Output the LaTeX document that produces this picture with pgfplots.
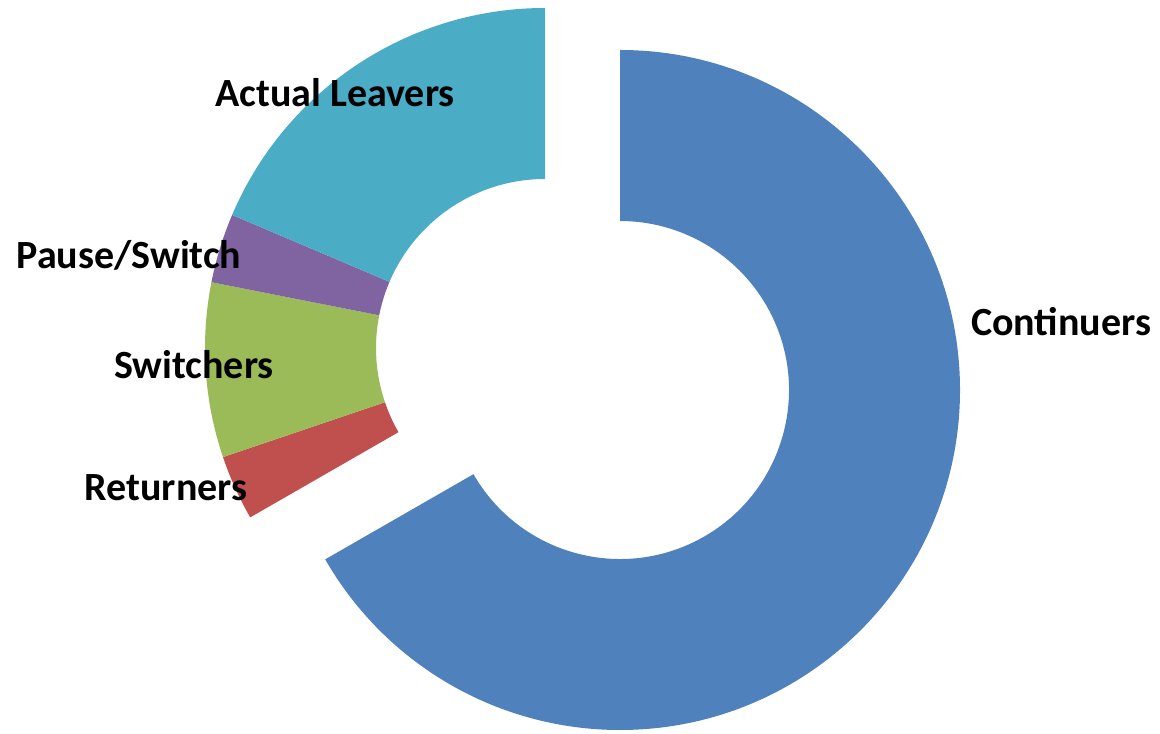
\documentclass[border=0pt]{standalone}
\usepackage{pgfplots}
\pgfplotsset{compat=1.18}
\usepackage{pgfplotstable}
\usepackage{fontspec}
\setmainfont{Carlito}

\definecolor{cont}{HTML}{4F81BD}
\definecolor{ret}{HTML}{C0504D}
\definecolor{swi}{HTML}{9BBB59}
\definecolor{pau}{HTML}{8064A2}
\definecolor{lea}{HTML}{4BACC6}

% share in percent, ring centre (px, y up), colour, label position
\pgfplotstableread[col sep=comma,row sep=\\]{
name,pct,cx,cy,col,lx,ly\\
Continuers,66.7,620,-390,cont,1061,-322\\
Returners,3.1,545,-348,ret,166,-488\\
Switchers,8.3,545,-348,swi,194,-365\\
Pause/Switch,3.3,545,-348,pau,129,-255\\
Actual Leavers,18.6,545,-348,lea,335,-93\\
}\data

\begin{document}
\begin{tikzpicture}
\begin{axis}[
    x=0.5pt, y=0.5pt,
    xmin=0, xmax=1160, ymin=-733, ymax=0,
    hide axis, clip=false,
  ]
  \path (axis cs:0,-733) rectangle (axis cs:1160,0);
  \def\astart{90}
  \pgfplotsforeachungrouped \i in {0,...,4}{
    \pgfplotstablegetelem{\i}{pct}\of\data \let\pct\pgfplotsretval
    \pgfplotstablegetelem{\i}{cx}\of\data \let\cx\pgfplotsretval
    \pgfplotstablegetelem{\i}{cy}\of\data \let\cy\pgfplotsretval
    \pgfplotstablegetelem{\i}{col}\of\data \let\col\pgfplotsretval
    \pgfplotstablegetelem{\i}{name}\of\data \let\nm\pgfplotsretval
    \pgfplotstablegetelem{\i}{lx}\of\data \let\lx\pgfplotsretval
    \pgfplotstablegetelem{\i}{ly}\of\data \let\ly\pgfplotsretval
    \pgfmathsetmacro\aend{\astart-3.6*\pct}
    \edef\cmd{%
      \noexpand\fill[\col] (axis cs:{\cx+340*cos(\astart)},{\cy+340*sin(\astart)})
        arc[start angle=\astart, end angle=\aend, radius=170pt]
        -- (axis cs:{\cx+169*cos(\aend)},{\cy+169*sin(\aend)})
        arc[start angle=\aend, end angle=\astart, radius=84.5pt] -- cycle;
      \noexpand\node[font=\noexpand\fontsize{20}{24}\noexpand\selectfont\noexpand\bfseries]
        at (axis cs:\lx,\ly) {\nm};
    }
    \cmd
    \let\astart\aend
  }
\end{axis}
\end{tikzpicture}
\end{document}
